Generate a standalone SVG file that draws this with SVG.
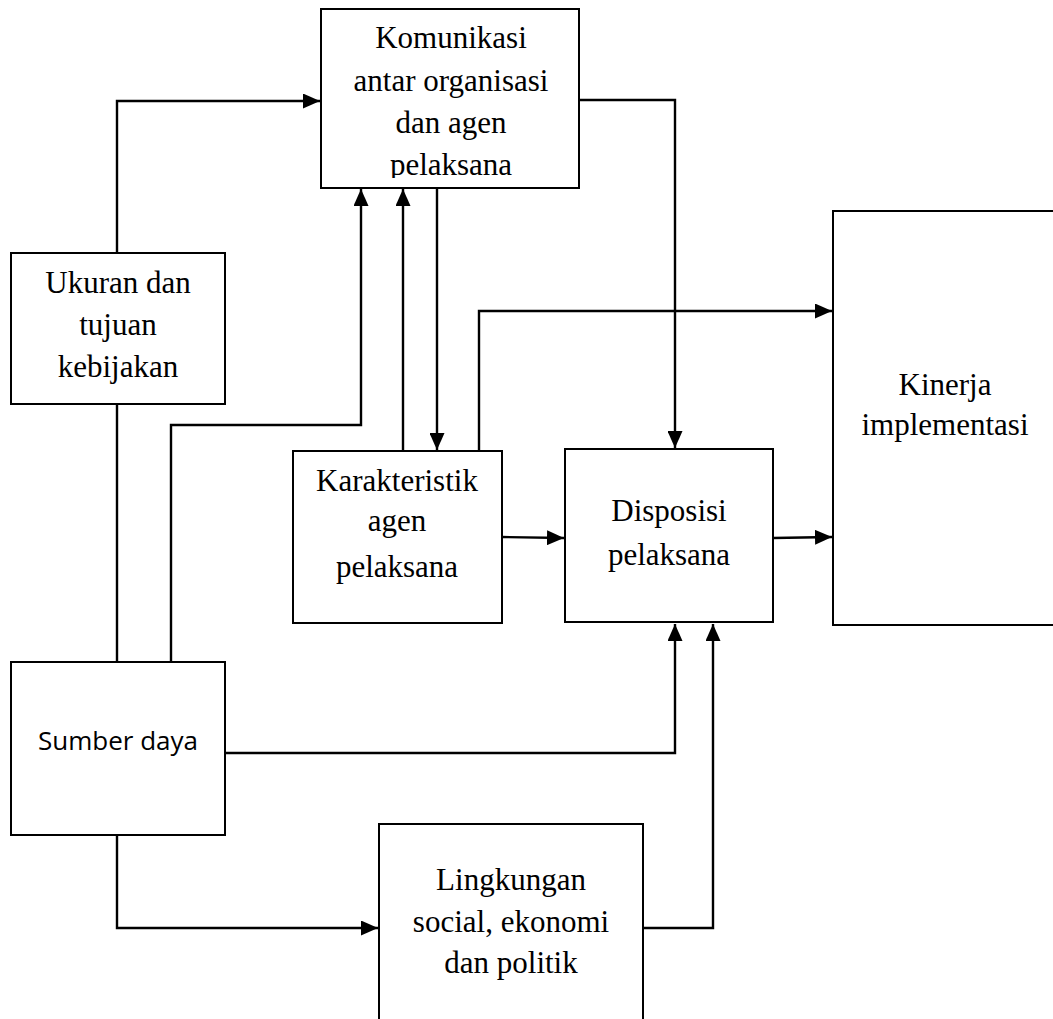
<svg xmlns="http://www.w3.org/2000/svg" width="1053" height="1019" viewBox="0 0 1053 1019">
<style>
.box{fill:#fff;stroke:#000;stroke-width:2}
.t{font-family:"Liberation Serif","Times New Roman",serif;font-size:31px;text-anchor:middle;fill:#000}
.s{font-family:"Open Sans","Noto Sans",sans-serif;font-size:26px;text-anchor:middle;fill:#000}
.c{fill:none;stroke:#000;stroke-width:2.4}
</style>
<defs>
<marker id="ah" markerUnits="userSpaceOnUse" markerWidth="17" markerHeight="15" refX="17" refY="7.5" orient="auto">
<path d="M0,0 L17,7.5 L0,15 z" fill="#000"/>
</marker>
<clipPath id="clipK"><rect x="322" y="10" width="256" height="168"/></clipPath>
</defs>
<rect width="1053" height="1019" fill="#fff"/>
<g id="connectors">
<path class="c" d="M117,253 V101 H320" marker-end="url(#ah)"/>
<path class="c" d="M117,404 V662"/>
<path class="c" d="M171,662 V425 H361 V189" marker-end="url(#ah)"/>
<path class="c" d="M403,451 V189" marker-end="url(#ah)"/>
<path class="c" d="M437,189 V450" marker-end="url(#ah)"/>
<path class="c" d="M579,100 H675 V448" marker-end="url(#ah)"/>
<path class="c" d="M479,451 V311 H832" marker-end="url(#ah)"/>
<path class="c" d="M502,537 L564,538" marker-end="url(#ah)"/>
<path class="c" d="M773,538 L832,537" marker-end="url(#ah)"/>
<path class="c" d="M225,753 H675 V624" marker-end="url(#ah)"/>
<path class="c" d="M643,928 H713 V624" marker-end="url(#ah)"/>
<path class="c" d="M117,835 V928 H378" marker-end="url(#ah)"/>
</g>
<g id="komunikasi">
<rect class="box" x="321" y="9" width="258" height="179"/>
<g clip-path="url(#clipK)">
<text class="t" x="451" y="48">Komunikasi</text>
<text class="t" x="451" y="91">antar organisasi</text>
<text class="t" x="451" y="133">dan agen</text>
<text class="t" x="451" y="175">pelaksana</text>
</g>
</g>
<g id="ukuran">
<rect class="box" x="11" y="253" width="214" height="151"/>
<text class="t" x="118" y="293">Ukuran dan</text>
<text class="t" x="118" y="335">tujuan</text>
<text class="t" x="118" y="377">kebijakan</text>
</g>
<g id="karakteristik">
<rect class="box" x="293" y="451" width="209" height="172"/>
<text class="t" x="397" y="491">Karakteristik</text>
<text class="t" x="397" y="531">agen</text>
<text class="t" x="397" y="577">pelaksana</text>
</g>
<g id="disposisi">
<rect class="box" x="565" y="449" width="208" height="173"/>
<text class="t" x="669" y="521">Disposisi</text>
<text class="t" x="669" y="565">pelaksana</text>
</g>
<g id="kinerja">
<rect class="box" x="833" y="211" width="226" height="414"/>
<text class="t" x="945" y="395">Kinerja</text>
<text class="t" x="945" y="435">implementasi</text>
</g>
<g id="sumber">
<rect class="box" x="11" y="662" width="214" height="173"/>
<text class="s" x="118" y="750">Sumber daya</text>
</g>
<g id="lingkungan">
<rect class="box" x="379" y="824" width="264" height="200"/>
<text class="t" x="511" y="890">Lingkungan</text>
<text class="t" x="511" y="932">social, ekonomi</text>
<text class="t" x="511" y="973">dan politik</text>
</g>
</svg>
